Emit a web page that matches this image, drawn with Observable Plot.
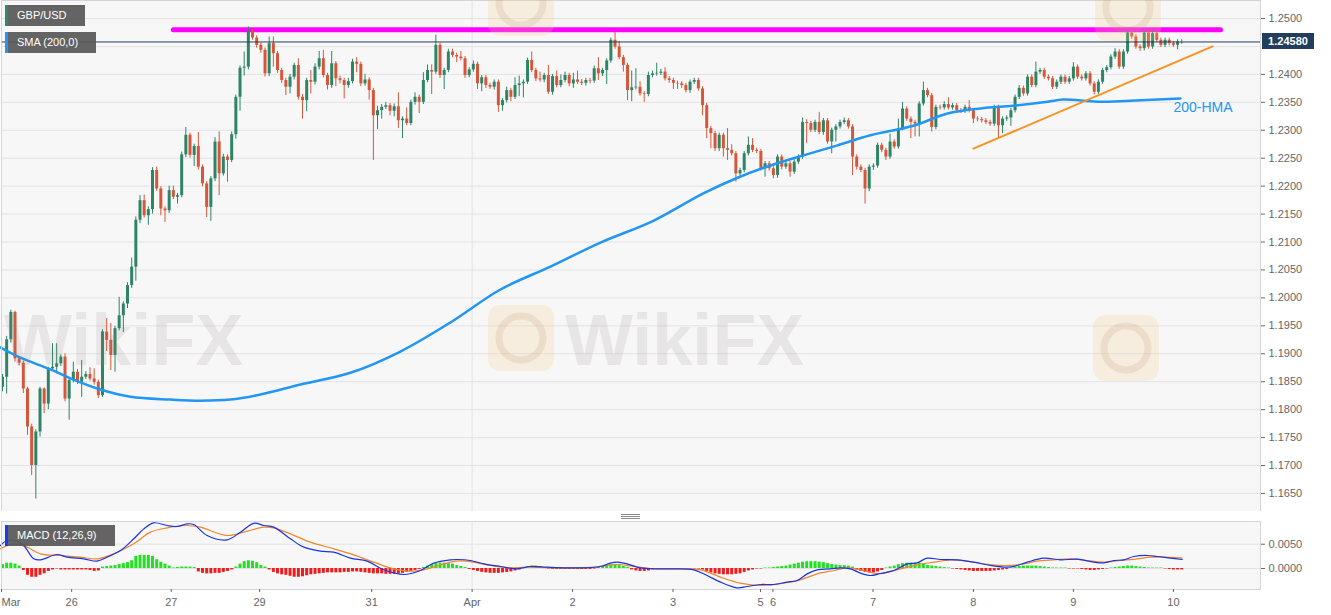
<!DOCTYPE html>
<html><head><meta charset="utf-8">
<script src="https://cdn.jsdelivr.net/npm/d3@7"></script>
<script src="https://cdn.jsdelivr.net/npm/@observablehq/plot@0.6"></script>
<style>
body{margin:0;background:#fff;font-family:"Liberation Sans",Arial,sans-serif;}
#wrap{position:relative;width:1331px;height:615px;overflow:hidden;background:#fff;}
#price,#macd,#wm{position:absolute;left:0;}
#price{top:0;} #macd{top:512px;} #wm{top:0;pointer-events:none;}
.tag{position:absolute;left:5px;height:21px;line-height:21px;color:#fff;font-size:11px;background:rgba(88,88,88,0.93);padding-left:12px;box-sizing:border-box;}
.tag i{position:absolute;left:0;top:0;bottom:0;width:3px;}
#ptag{position:absolute;left:1262px;width:52px;height:16px;line-height:16px;background:#233d5c;color:#fff;font-weight:bold;font-size:11px;text-align:center;}
#handle{position:absolute;left:621px;top:514px;width:19px;height:5px;background:repeating-linear-gradient(#888 0 1px,transparent 1px 2px);}
</style></head>
<body><div id="wrap">
<div id="price"></div><div id="macd"></div>
<svg id="wm" width="1331" height="615"></svg>
<div class="tag" style="top:5px;width:80px"><i style="background:#2e8b62"></i>GBP/USD</div>
<div class="tag" style="top:32px;width:91px"><i style="background:#2196f3"></i>SMA (200,0)</div>
<div class="tag" style="top:525px;width:110px"><i style="background:#1a3cf0"></i>MACD (12,26,9)</div>
<div id="ptag">1.24580</div>
<div id="handle"></div>
</div>
<script>
// ---- hourly GBP/USD candles (index 0 = first bar, Mar 25) ----
const firstOpen = 1.1840;
const closes = [
1.1858,1.1925,1.1974,1.1891,1.1883,1.1837,1.1769,1.1700,1.1760,1.1837,
1.1810,1.1873,1.1876,1.1882,1.1894,1.1819,1.1852,1.1867,1.1849,1.1858,
1.1863,1.1855,1.1849,1.1825,1.1939,1.1924,1.1897,1.1945,1.1968,1.1989,
1.2022,1.2055,1.2139,1.2174,1.2147,1.2158,1.2228,1.2195,1.2159,1.2156,
1.2192,1.2180,1.2183,1.2256,1.2291,1.2255,1.2271,1.2234,1.2204,1.2162,
1.2213,1.2279,1.2222,1.2252,1.2246,1.2292,1.2359,1.2411,1.2413,1.2476,
1.2465,1.2452,1.2443,1.2401,1.2455,1.2437,1.2407,1.2389,1.2377,1.2395,
1.2416,1.2359,1.2353,1.2389,1.2386,1.2413,1.2428,1.2398,1.2380,1.2419,
1.2392,1.2389,1.2380,1.2387,1.2422,1.2418,1.2383,1.2390,1.2371,1.2326,
1.2335,1.2341,1.2344,1.2334,1.2342,1.2317,1.2320,1.2312,1.2350,1.2359,
1.2350,1.2389,1.2407,1.2404,1.2452,1.2398,1.2407,1.2440,1.2434,1.2431,
1.2428,1.2398,1.2408,1.2418,1.2383,1.2394,1.2380,1.2377,1.2386,1.2344,
1.2353,1.2371,1.2359,1.2380,1.2383,1.2386,1.2425,1.2407,1.2392,1.2390,
1.2398,1.2368,1.2396,1.2380,1.2389,1.2398,1.2383,1.2390,1.2386,1.2384,
1.2389,1.2388,1.2410,1.2401,1.2407,1.2424,1.2461,1.2449,1.2430,1.2416,
1.2371,1.2376,1.2377,1.2365,1.2364,1.2398,1.2401,1.2402,1.2404,1.2392,
1.2389,1.2384,1.2383,1.2380,1.2371,1.2386,1.2389,1.2374,1.2344,1.2303,
1.2294,1.2267,1.2291,1.2267,1.2264,1.2258,1.2222,1.2228,1.2258,1.2273,
1.2264,1.2262,1.2231,1.2240,1.2231,1.2219,1.2252,1.2234,1.2240,1.2225,
1.2243,1.2252,1.2314,1.2312,1.2300,1.2314,1.2296,1.2317,1.2279,1.2300,
1.2306,1.2314,1.2317,1.2306,1.2252,1.2234,1.2228,1.2195,1.2234,1.2236,
1.2273,1.2264,1.2252,1.2279,1.2270,1.2303,1.2338,1.2320,1.2314,1.2311,
1.2347,1.2371,1.2362,1.2305,1.2341,1.2340,1.2346,1.2340,1.2344,1.2335,
1.2334,1.2341,1.2335,1.2320,1.2319,1.2317,1.2314,1.2311,1.2341,1.2308,
1.2320,1.2322,1.2335,1.2359,1.2375,1.2365,1.2395,1.2380,1.2404,1.2407,
1.2395,1.2392,1.2377,1.2386,1.2395,1.2386,1.2392,1.2413,1.2395,1.2392,
1.2401,1.2383,1.2368,1.2386,1.2407,1.2412,1.2431,1.2440,1.2413,1.2440,
1.2474,1.2467,1.2449,1.2446,1.2474,1.2449,1.2473,1.2461,1.2452,1.2461,
1.2455,1.2452,1.2458,1.2458];
// upper / lower wick length beyond the body, in pips
const wickUp = [
5,6,4,2,4,4,3,5,4,3, 2,3,42,36,4,6,4,18,5,30, 5,12,18,4,4,24,30,4,33,4,
5,16,6,9,10,5,5,6,4,4, 8,8,4,5,14,4,4,25,4,4, 4,8,18,5,4,5,4,4,27,9,
4,4,4,4,12,12,4,4,4,5, 4,12,5,4,18,6,13,15,4,22, 4,5,4,6,5,8,4,10,4,4,
8,5,6,4,5,25,4,20,4,8, 4,14,10,10,18,4,4,5,5,4, 10,4,4,6,4,4,4,4,4,4,
4,6,4,14,14,4,4,15,4,12, 4,18,4,10,10,6,4,12,16,5, 4,4,5,20,4,4,4,15,10,4,
4,30,33,10,4,6,5,18,5,8, 4,4,4,4,4,4,4,4,4,4, 4,4,4,4,36,10,4,4,4,15,
12,4,4,4,4,4,4,4,4,4, 4,4,8,5,4,4,18,4,4,4, 4,4,5,4,4,4,4,4,4,4,
4,4,4,14,4,17,12,4,4,4, 4,15,4,4,4,4,5,12,4,4, 4,4,12,4,4,4,4,4,4,4,
4,4,4,4,5,4,4,4,18,4, 4,4,4,4,4,4,4,8,4,4, 4,4,4,4,4,4,4,6,4,4,
5,5,4,4,4,5,4,5,4,4, 4,4,4,4];
const wickDn = [
8,30,6,6,5,8,15,18,60,9, 17,10,4,12,5,5,38,4,4,27, 4,4,5,5,3,20,27,30,4,30,
8,5,25,6,4,17,8,4,12,21, 5,4,12,4,5,5,20,5,5,18, 25,5,39,4,39,4,8,25,14,5,
4,5,5,6,5,24,5,5,15,12, 5,5,33,20,21,5,5,4,8,5, 14,6,24,5,4,15,5,4,17,80,
25,15,4,8,10,14,32,4,4,5, 20,4,4,40,4,5,25,4,4,10, 4,5,4,4,10,14,5,4,5,12,
10,4,8,4,20,25,4,4,5,4, 5,4,5,4,4,4,5,8,4,4, 5,5,4,12,5,25,4,4,4,12,
18,20,4,4,14,4,4,4,4,4, 5,11,10,5,4,5,4,4,18,18, 27,5,5,15,18,4,15,5,4,4,
4,4,4,15,4,6,5,5,4,9, 4,4,4,36,4,4,4,5,4,21, 21,4,4,4,33,5,4,27,5,6,
4,4,6,4,4,4,4,4,29,23, 23,4,4,8,4,4,4,4,4,5, 4,4,4,8,4,4,4,4,4,21,
14,4,15,4,4,4,4,4,4,4, 4,4,4,4,4,4,4,4,4,4, 4,4,5,4,4,4,4,4,4,4,
4,4,4,5,4,4,4,4,4,4, 4,4,8,4];
// 200-HMA (bar index, price)
const hmaIdx = [-0.5,4.3,11.5,16.3,23.5,30.7,40.3,47.5,54.7,61.9,71.5,83.5,95.5,107.5,119.5,131.5,143.5,156.2,168.2,176.4,184.3,192.2,200.4,208.3,218.6,226.8,234.7,242.6,250.8,254.6,262.8,270.7,282.7];
const hmaVal = [1.1911,1.1893,1.1872,1.1856,1.1836,1.1823,1.1818,1.1816,1.1818,1.1827,1.1845,1.1866,1.1904,1.1956,1.2015,1.2056,1.2099,1.2138,1.2187,1.2215,1.2237,1.2255,1.2273,1.2291,1.2308,1.2330,1.2339,1.2344,1.2351,1.2355,1.2351,1.2353,1.2357];
// annotation lines
const resistance = [[41.0,1.2480],[292.3,1.2480]];
const trendLine = [[233.0,1.2267],[290.4,1.2450]];
const lastPrice = 1.2458;
const hmaLabel = [{i:281.0,p:1.2341,t:"200-HMA"}];
const priceTicks = [1.165,1.170,1.175,1.180,1.185,1.190,1.195,1.200,1.205,1.210,1.215,1.220,1.225,1.230,1.235,1.240,1.245,1.250];
// 1.2450 is hidden behind the last-price tag in the source, so it is not labelled
const priceLabels = [1.165,1.170,1.175,1.180,1.185,1.190,1.195,1.200,1.205,1.210,1.215,1.220,1.225,1.230,1.235,1.240,1.250];
// MACD (12,26,9)
const macdIdx = [-0.5,1.1,3.5,5.1,7.5,9.1,13.1,15.5,19.5,22.7,25.1,28.3,31.5,33.9,36.3,39.5,41.9,44.3,45.9,49.1,53.9,57.1,60.3,62.7,65.1,69.1,72.3,76.3,79.5,83.5,87.5,91.5,96.3,100.3,103.5,107.5,109.1,112.3,115.5,119.5,123.5,126.7,130.7,135.5,139.5,143.5,145.9,147.5,149.9,153.1,157.1,161.1,165.9,169.1,172.3,176.3,178.7,181.9,185.1,188.3,190.7,193.1,195.5,198.7,201.1,203.5,205.9,208.3,210.7,213.9,217.1,219.5,221.9,225.1,229.1,233.1,237.1,241.1,243.5,245.9,249.9,253.9,257.9,261.9,264.3,266.7,269.1,271.5,274.7,277.1,280.3,283.1];
const macdVal = [0.00473,0.00576,0.00563,0.00473,0.00199,0.00178,0.00288,0.00233,0.00199,0.00151,0.00233,0.00370,0.00611,0.00816,0.00940,0.00885,0.00864,0.00919,0.00906,0.00679,0.00590,0.00748,0.00930,0.00885,0.00851,0.00611,0.00439,0.00357,0.00336,0.00213,0.00151,-0.00027,-0.00123,-0.00041,0.00110,0.00178,0.00185,0.00165,0.00096,0.00041,-0.00007,0.00041,0.00027,0.00014,0.00014,0.00041,0.00110,0.00130,0.00096,0.00014,-0.00007,-0.00007,-0.00027,-0.00144,-0.00281,-0.00398,-0.00370,-0.00329,-0.00329,-0.00281,-0.00247,-0.00110,-0.00027,-0.00007,0.00014,-0.00007,-0.00096,-0.00144,-0.00103,-0.00041,0.00096,0.00117,0.00213,0.00185,0.00178,0.00130,0.00062,0.00027,0.00062,0.00130,0.00213,0.00178,0.00192,0.00130,0.00117,0.00165,0.00178,0.00247,0.00268,0.00247,0.00213,0.00185];
const sigIdx = [-0.5,2.7,5.9,9.1,13.9,18.7,22.7,26.7,31.5,35.5,39.5,44.3,47.5,53.9,58.7,62.7,65.1,69.1,73.9,79.5,84.3,89.1,93.9,98.7,103.5,107.5,109.9,113.1,117.1,121.1,125.9,131.5,137.1,141.9,147.5,151.5,156.3,161.1,167.5,172.3,177.1,181.9,187.5,191.5,195.5,199.5,202.7,205.9,209.1,210.7,215.5,219.5,223.5,227.5,231.5,235.5,240.3,244.3,248.3,252.3,256.3,260.3,264.3,268.3,272.3,275.5,278.7,283.1];
const sigVal = [0.00405,0.00508,0.00439,0.00302,0.00268,0.00233,0.00199,0.00302,0.00508,0.00748,0.00837,0.00885,0.00851,0.00679,0.00768,0.00851,0.00837,0.00713,0.00542,0.00405,0.00281,0.00130,-0.00007,-0.00055,0.00027,0.00130,0.00155,0.00130,0.00062,0.00014,0.00027,0.00014,0.00014,0.00027,0.00082,0.00041,-0.00007,-0.00007,-0.00027,-0.00178,-0.00302,-0.00350,-0.00302,-0.00233,-0.00110,-0.00041,0.00014,-0.00027,-0.00096,-0.00105,-0.00007,0.00076,0.00130,0.00178,0.00151,0.00096,0.00062,0.00082,0.00151,0.00178,0.00199,0.00165,0.00130,0.00165,0.00199,0.00233,0.00233,0.00213];
const hist = [
0.0008,0.0011,0.0011,0.0009,0.0005,-0.0004,-0.0014,-0.0018,-0.0018,-0.0014,
-0.0011,-0.0006,-0.0003,-0.0001,-0.0003,-0.0003,-0.0003,-0.0003,-0.0003,-0.0003,
-0.0003,-0.0004,-0.0006,-0.0005,0.0003,0.0004,0.0005,0.0006,0.0008,0.0010,
0.0012,0.0016,0.0025,0.0027,0.0027,0.0027,0.0025,0.0018,0.0013,0.0009,
0.0005,0.0001,0.0002,0.0003,0.0003,0.0003,0.0002,-0.0007,-0.0010,-0.0011,
-0.0011,-0.0010,-0.0010,-0.0008,-0.0006,-0.0003,0.0003,0.0009,0.0014,0.0016,
0.0015,0.0012,0.0006,0.0003,-0.0003,-0.0008,-0.0011,-0.0013,-0.0014,-0.0016,
-0.0018,-0.0018,-0.0017,-0.0015,-0.0013,-0.0012,-0.0011,-0.0010,-0.0009,-0.0009,
-0.0009,-0.0009,-0.0008,-0.0008,-0.0007,-0.0007,-0.0008,-0.0009,-0.0010,-0.0011,
-0.0011,-0.0011,-0.0012,-0.0012,-0.0012,-0.0011,-0.0010,-0.0008,-0.0006,-0.0004,
-0.0002,0.0002,0.0005,0.0008,0.0010,0.0011,0.0011,0.0010,0.0009,0.0006,
0.0004,0.0002,-0.0002,-0.0004,-0.0006,-0.0008,-0.0009,-0.0010,-0.0010,-0.0010,
-0.0009,-0.0008,-0.0007,-0.0005,-0.0003,0.0002,0.0004,0.0005,0.0005,0.0004,
0.0002,-0.0001,-0.0002,-0.0002,-0.0002,-0.0002,-0.0002,-0.0002,-0.0002,-0.0002,
-0.0002,-0.0002,-0.0001,0.0002,0.0004,0.0006,0.0008,0.0008,0.0006,0.0004,
0.0002,-0.0003,-0.0005,-0.0006,-0.0006,-0.0005,-0.0003,-0.0001,-0.0001,-0.0001,
-0.0001,-0.0001,-0.0001,-0.0001,-0.0001,-0.0001,-0.0001,-0.0001,-0.0003,-0.0006,
-0.0009,-0.0011,-0.0012,-0.0013,-0.0013,-0.0013,-0.0012,-0.0011,-0.0008,-0.0005,
-0.0003,-0.0001,-0.0001,0.0001,0.0001,0.0002,0.0003,0.0004,0.0005,0.0007,
0.0009,0.0011,0.0013,0.0014,0.0014,0.0014,0.0013,0.0012,0.0010,0.0008,
0.0007,0.0006,0.0006,0.0005,0.0003,-0.0003,-0.0006,-0.0008,-0.0009,-0.0009,
-0.0007,-0.0004,0.0001,0.0003,0.0005,0.0008,0.0010,0.0011,0.0011,0.0011,
0.0011,0.0010,0.0006,0.0005,0.0004,0.0003,0.0002,0.0001,-0.0001,-0.0002,
-0.0003,-0.0004,-0.0005,-0.0006,-0.0006,-0.0006,-0.0006,-0.0006,-0.0005,-0.0004,
-0.0003,-0.0002,0.0001,0.0002,0.0004,0.0005,0.0005,0.0005,0.0005,0.0004,
0.0003,0.0002,0.0001,0.0001,0.0001,0.0001,-0.0001,-0.0001,-0.0001,-0.0002,
-0.0003,-0.0004,-0.0004,-0.0003,-0.0002,-0.0001,0.0001,0.0002,0.0003,0.0004,
0.0005,0.0005,0.0004,0.0003,0.0002,0.0001,0.0001,0.0001,0.0001,-0.0001,
-0.0002,-0.0003,-0.0003,-0.0003];
const macdTicks = [0, 0.005];
// time axis (bar index of each day boundary)
const dayIdx = [16.6,40.5,61.7,88.6,112.7,136.8,160.9,181.9,184.9,208.9,233.0,257.0,281.0];
const dayLabel = ["26","27","29","31","Apr","2","3","5","6","7","8","9","10"];
const monthIdx = [-0.24];
const monthLabel = ["Mar"];
const aprIdx = [112.7];

const GREEN = "#2e8566", RED = "#d5573a";
const XDOM = [-0.24, 301.9];
const FONT = "Liberation Sans, Arial, sans-serif";

const candles = closes.map((c, i) => {
  const o = i === 0 ? firstOpen : closes[i - 1];
  return {i, o, c, h: Math.max(o, c) + wickUp[i] * 1e-4, l: Math.min(o, c) - wickDn[i] * 1e-4, up: c >= o};
});
const hma = hmaIdx.map((x, k) => ({x, y: hmaVal[k]}));
const macd = macdIdx.map((x, k) => ({x, y: macdVal[k]}));
const sig = sigIdx.map((x, k) => ({x, y: sigVal[k]}));
const histData = hist.map((v, i) => ({i, v}));
const fmt4 = d3.format(".4f");

const pricePlot = Plot.plot({
  width: 1331, height: 511, marginLeft: 1, marginRight: 71, marginTop: 0, marginBottom: 0,
  style: {background: "transparent", fontFamily: FONT, fontSize: "11px"},
  x: {domain: XDOM, axis: null},
  y: {domain: [1.161773, 1.253221], label: null},
  marks: [
    Plot.frame({fill: "#f7f7f8", stroke: null}),
    Plot.gridY(priceTicks, {stroke: "#e3e3e6", strokeOpacity: 1}),
    Plot.ruleX(aprIdx, {stroke: "#e3e3e6"}),
    Plot.line(resistance, {x: d => d[0], y: d => d[1], stroke: "#ff00ff", strokeWidth: 5}),
    Plot.ruleX(candles, {x: "i", y1: "l", y2: "h", stroke: d => d.up ? GREEN : RED, strokeWidth: 1}),
    Plot.ruleX(candles, {x: "i", y1: "o", y2: "c", stroke: d => d.up ? GREEN : RED, strokeWidth: 3}),
    Plot.ruleY([lastPrice], {stroke: "#233d5c", strokeWidth: 1}),
    Plot.line(hma, {x: "x", y: "y", curve: "catmull-rom", stroke: "#2196f3", strokeWidth: 2.5}),
    Plot.line(trendLine, {x: d => d[0], y: d => d[1], stroke: "#f7931e", strokeWidth: 2}),
    Plot.text(hmaLabel, {x: "i", y: "p", text: "t", textAnchor: "start", fill: "#2196f3", fontSize: 14}),
    Plot.frame({stroke: "#d3d4dc"}),
    Plot.axisY(priceLabels, {anchor: "right", tickFormat: fmt4, tickSize: 4, tickPadding: 4, color: "#666", fontSize: 11, label: null})
  ]
});
document.getElementById("price").appendChild(pricePlot);
const py = pricePlot.scale("y").apply(lastPrice);
document.getElementById("ptag").style.top = (py - 8) + "px";

const macdPlot = Plot.plot({
  width: 1331, height: 103, marginLeft: 1, marginRight: 71, marginTop: 9, marginBottom: 26,
  style: {background: "transparent", fontFamily: FONT, fontSize: "11px"},
  x: {domain: XDOM, label: null},
  y: {domain: [-0.004322, 0.009673], label: null},
  marks: [
    Plot.frame({fill: "#f7f7f8", stroke: null}),
    Plot.gridY(macdTicks, {stroke: "#e3e3e6", strokeOpacity: 1}),
    Plot.ruleX(aprIdx, {stroke: "#e3e3e6"}),
    Plot.ruleX(histData, {x: "i", y1: 0, y2: "v", stroke: d => d.v >= 0 ? "#22e022" : "#ee1c1c", strokeWidth: 3}),
    Plot.line(sig, {x: "x", y: "y", curve: "catmull-rom", stroke: "#f0862a", strokeWidth: 1.2}),
    Plot.line(macd, {x: "x", y: "y", curve: "catmull-rom", stroke: "#1a35e0", strokeWidth: 1.2}),
    Plot.frame({stroke: "#d3d4dc"}),
    Plot.axisY(macdTicks, {anchor: "right", tickFormat: fmt4, tickSize: 4, tickPadding: 4, color: "#666", fontSize: 11, label: null}),
    Plot.axisX(dayIdx, {anchor: "bottom", tickFormat: d => dayLabel[dayIdx.indexOf(d)], tickSize: 3, tickPadding: 6, color: "#666", fontSize: 11, label: null}),
    Plot.axisX(monthIdx, {anchor: "bottom", tickFormat: d => monthLabel[monthIdx.indexOf(d)], tickSize: 3, tickPadding: 6, textAnchor: "start", color: "#666", fontSize: 11, label: null})
  ]
});
document.getElementById("macd").appendChild(macdPlot);

// faint WikiFX watermarks (decorative): full text only where it stays inside the plot, logos elsewhere
const wm = d3.select("#wm");
const logos = [[488,305],[1093,315],[488,-30],[1095,-25]];
logos.forEach(([x, y]) => {
  wm.append("rect").attr("x", x).attr("y", y).attr("width", 66).attr("height", 66).attr("rx", 12)
    .attr("fill", "rgba(245,205,130,0.22)");
  wm.append("circle").attr("cx", x + 33).attr("cy", y + 33).attr("r", 22)
    .attr("fill", "none").attr("stroke", "rgba(190,150,110,0.18)").attr("stroke-width", 7);
});
[[4,365],[565,365]].forEach(([x, y]) => {
  wm.append("text").attr("x", x).attr("y", y).text("WikiFX")
    .attr("font-family", FONT).attr("font-weight", "bold").attr("font-size", 72)
    .attr("fill", "rgba(150,125,125,0.15)");
});
</script>
</body></html>
